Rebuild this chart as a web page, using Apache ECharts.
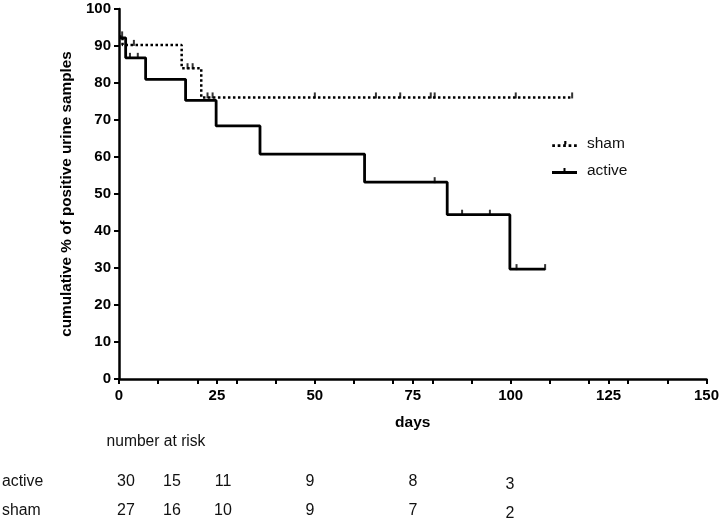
<!DOCTYPE html>
<html>
<head>
<meta charset="utf-8">
<script src="https://cdn.jsdelivr.net/npm/echarts@6/dist/echarts.min.js"></script>
<style>
html,body{margin:0;padding:0;background:#fff;}
#c{width:722px;height:524px;}
</style>
</head>
<body>
<div id="c"></div>
<script>
// ---- data ----
const activeTimes  = [0, 1.7, 6.8, 17, 24.8, 36, 62.7, 83.8, 99.8, 108.8];
const activeValues = [92.2, 86.8, 81.0, 75.3, 68.4, 60.8, 53.2, 44.4, 29.7, 29.7];
const shamTimes    = [0, 0.9, 16, 21, 115.7];
const shamValues   = [92.6, 90.3, 84.0, 76.1, 76.1];
const activeCensorTimes  = [2.8, 4.8, 80.6, 87.6, 94.7, 101.5, 108.8];
const activeCensorValues = [86.8, 86.8, 53.2, 44.4, 44.4, 29.7, 29.7];
const shamCensorTimes    = [0.8, 3.8, 17.5, 18.8, 22.6, 23.9, 50, 65.6, 71.8, 79.6, 80.6, 101.3, 115.7];
const shamCensorValues   = [92.6, 90.3, 84.0, 84.0, 76.1, 76.1, 76.1, 76.1, 76.1, 76.1, 76.1, 76.1, 76.1];
const riskGroups = ['active', 'sham'];
const riskActive = [30, 15, 11, 9, 8, 3];
const riskSham   = [27, 16, 10, 9, 7, 2];
const xTickLabels = [0, 25, 50, 75, 100, 125, 150];

// ---- build ----
const zip = (a, b) => a.map((v, i) => [v, b[i]]);
const FONT = 'Liberation Sans, Arial, sans-serif';
const chart = echarts.init(document.getElementById('c'), null, {renderer: 'canvas'});

// layout constants for the risk table
const colX = [126, 172, 223, 310, 413, 510];
const rowY = [482, 511];
const graphics = [{
  type: 'text', x: 156, y: 442,
  style: {text: 'number at risk', font: '15.6px ' + FONT, fill: '#111', align: 'center', verticalAlign: 'middle'}
}];
riskGroups.forEach((g, r) => {
  graphics.push({type: 'text', x: 2, y: rowY[r],
    style: {text: g, font: '15.8px ' + FONT, fill: '#111', align: 'left', verticalAlign: 'middle'}});
  const vals = r === 0 ? riskActive : riskSham;
  vals.forEach((v, i) => {
    graphics.push({type: 'text', x: colX[i], y: rowY[r] + (i === 5 ? 3 : 0),
      style: {text: String(v), font: '16px ' + FONT, fill: '#111', align: 'center', verticalAlign: 'middle'}});
  });
});

const axisLine = {show: true, lineStyle: {color: '#000', width: 2.5}};
const tick = {show: true, length: 5, lineStyle: {color: '#000', width: 2}};

// legend icons: line with a small censor tick (box 25 x 6)
const iconActive = 'path://M0,3h25v3h-25z M11.5,0h2v3h-2z';
let dots = '';
for (let x = 0; x < 25; x += 5) dots += 'M' + x + ',3h2.5v2.5h-2.5z ';
const iconSham = 'path://' + dots + 'M11,0h2v3h-2z';

chart.setOption({
  animation: false,
  backgroundColor: '#fff',
  grid: {left: 119, right: 12, top: 9, bottom: 145, containLabel: false},
  legend: {
    orient: 'vertical', left: 547, top: 131, itemWidth: 25, itemHeight: 6, itemGap: 11,
    data: [{name: 'sham', icon: iconSham}, {name: 'active', icon: iconActive}],
    itemStyle: {color: '#000'},
    textStyle: {fontFamily: FONT, fontSize: 15.5, color: '#111', padding: [0, 0, 0, 5]}
  },
  xAxis: [{
    type: 'value', min: 0, max: 150, interval: 10,
    axisLine: axisLine, axisTick: tick, axisLabel: {show: false}, splitLine: {show: false}
  }, {
    type: 'value', min: 0, max: 150, interval: 25, position: 'bottom',
    axisLine: {show: false}, axisTick: tick, splitLine: {show: false},
    axisLabel: {
      show: true, margin: 9, fontFamily: FONT, fontWeight: 'bold', fontSize: 15, color: '#000',
      formatter: v => xTickLabels.indexOf(v) >= 0 ? String(v) : ''
    },
    name: 'days', nameLocation: 'middle', nameGap: 36,
    nameTextStyle: {fontFamily: FONT, fontWeight: 'bold', fontSize: 15.5, color: '#000'}
  }],
  yAxis: {
    type: 'value', min: 0, max: 100, interval: 10,
    axisLine: axisLine, axisTick: tick, splitLine: {show: false},
    axisLabel: {margin: 8, fontFamily: FONT, fontWeight: 'bold', fontSize: 15, color: '#000'},
    name: 'cumulative % of positive urine samples', nameLocation: 'middle', nameGap: 45,
    nameTextStyle: {fontFamily: FONT, fontWeight: 'bold', fontSize: 15.3, color: '#000'}
  },
  series: [{
    name: 'sham', type: 'line', step: 'end', xAxisIndex: 0,
    data: zip(shamTimes, shamValues), symbol: 'none',
    lineStyle: {color: '#000', width: 2.5, type: [2.5, 2.5]}, itemStyle: {color: '#000'}
  }, {
    name: 'active', type: 'line', step: 'end', xAxisIndex: 0,
    data: zip(activeTimes, activeValues), symbol: 'none',
    lineStyle: {color: '#000', width: 2.8}, itemStyle: {color: '#000'}
  }, {
    name: 'shamCensor', type: 'scatter', xAxisIndex: 0,
    data: zip(shamCensorTimes, shamCensorValues),
    symbol: 'rect', symbolSize: [2, 6], symbolOffset: [0, -2], itemStyle: {color: '#000'}
  }, {
    name: 'activeCensor', type: 'scatter', xAxisIndex: 0,
    data: zip(activeCensorTimes, activeCensorValues),
    symbol: 'rect', symbolSize: [2, 6], symbolOffset: [0, -2], itemStyle: {color: '#000'}
  }],
  graphic: graphics
});
</script>
</body>
</html>
